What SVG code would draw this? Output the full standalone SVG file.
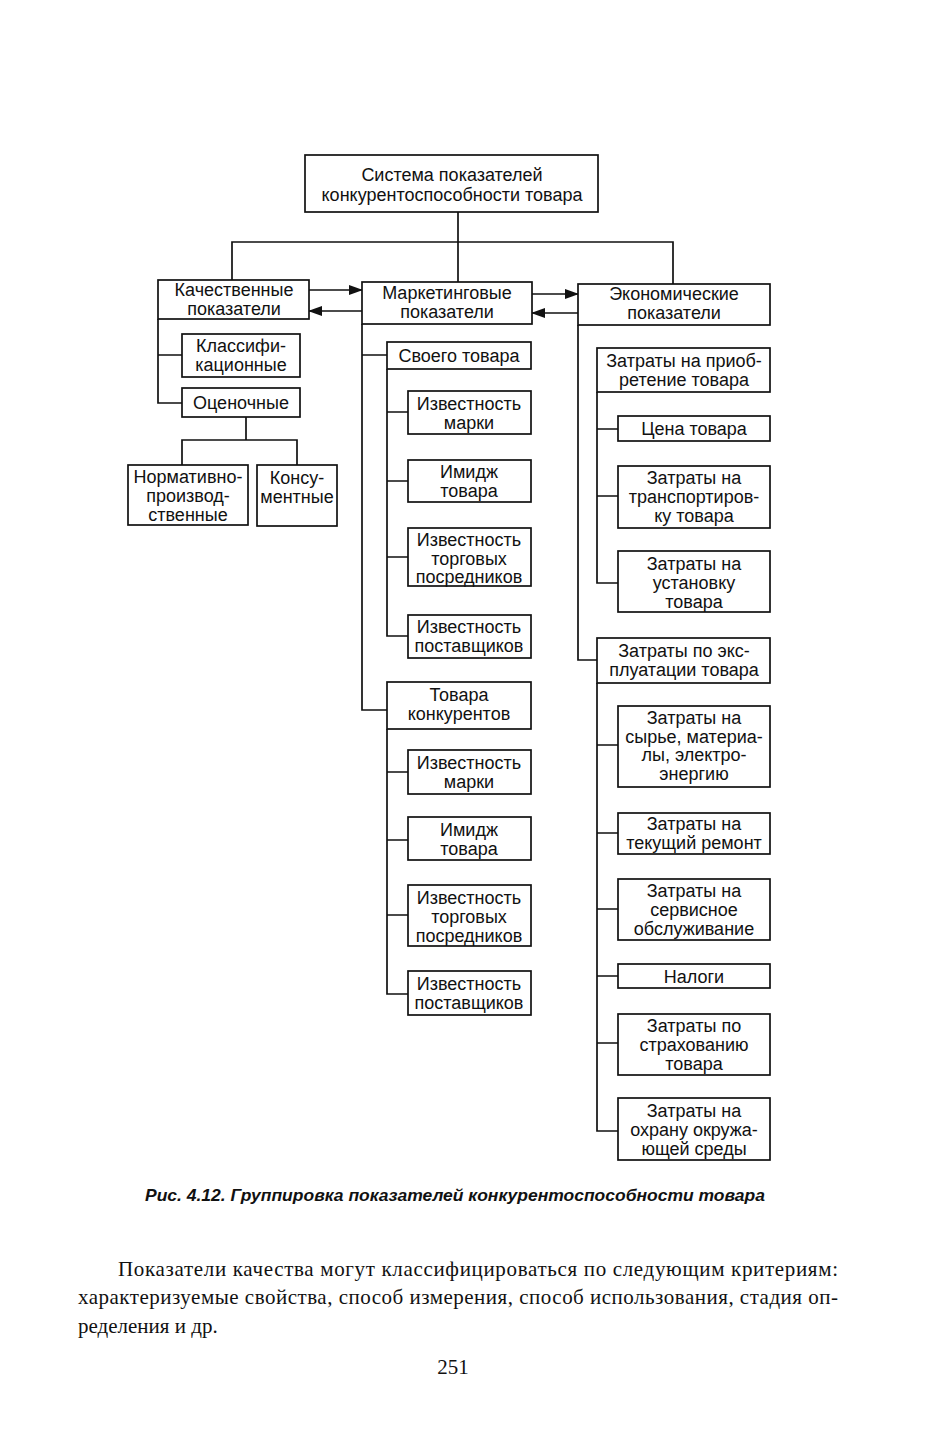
<svg xmlns="http://www.w3.org/2000/svg" width="940" height="1446" viewBox="0 0 940 1446">
<defs>
<marker id="ah" markerWidth="14" markerHeight="10" refX="13" refY="5" orient="auto" markerUnits="userSpaceOnUse">
<path d="M0,0 L14,5 L0,10 Z" fill="#111"/>
</marker>
<style>
.b{fill:#fff;stroke:#111;stroke-width:1.7}
.t{font-family:"Liberation Sans",Arial,sans-serif;font-size:18px;text-anchor:middle;fill:#111}
.c{stroke:#111;stroke-width:1.7;fill:none}
.cap{font-family:"Liberation Sans",Arial,sans-serif;font-size:17px;font-weight:bold;font-style:italic;fill:#111}
.body{font-family:"Liberation Serif","Times New Roman",serif;font-size:21px;fill:#111}
</style>
</defs>
<rect width="940" height="1446" fill="#fff"/>
<g id="connectors">
<path class="c" d="M458,212 V282"/>
<path class="c" d="M232,280 V242 H673 V284"/>
<path class="c" d="M309,290 H362" marker-end="url(#ah)"/>
<path class="c" d="M362,311 H309" marker-end="url(#ah)"/>
<path class="c" d="M532,294 H578" marker-end="url(#ah)"/>
<path class="c" d="M578,313 H532" marker-end="url(#ah)"/>
<path class="c" d="M158,319 V403 H182 M158,355 H182"/>
<path class="c" d="M246,417 V440 M182,465 V440 H297 V465"/>
<path class="c" d="M362,324 V710 H387 M362,355 H387"/>
<path class="c" d="M387,369 V636 H408 M387,412 H408 M387,481 H408 M387,557 H408"/>
<path class="c" d="M387,729 V994 H408 M387,772 H408 M387,840 H408 M387,915 H408"/>
<path class="c" d="M578,325 V660 H597"/>
<path class="c" d="M597,392 V583 H618 M597,429 H618 M597,496 H618"/>
<path class="c" d="M597,683 V1131 H618 M597,745 H618 M597,833 H618 M597,909 H618 M597,976 H618 M597,1043 H618"/>
</g>
<g id="n-top"><rect class="b" x="305" y="155" width="293" height="57"/><text class="t" x="452" y="181">Система показателей</text><text class="t" x="452" y="201">конкурентоспособности товара</text></g>
<g id="n-kach"><rect class="b" x="158" y="280" width="151" height="39"/><text class="t" x="234" y="296">Качественные</text><text class="t" x="234" y="315">показатели</text></g>
<g id="n-mark"><rect class="b" x="362" y="282" width="170" height="42"/><text class="t" x="447" y="299">Маркетинговые</text><text class="t" x="447" y="318">показатели</text></g>
<g id="n-econ"><rect class="b" x="578" y="284" width="192" height="41"/><text class="t" x="674" y="300">Экономические</text><text class="t" x="674" y="319">показатели</text></g>
<g id="n-klass"><rect class="b" x="182" y="334" width="118" height="43"/><text class="t" x="241" y="352">Классифи-</text><text class="t" x="241" y="371">кационные</text></g>
<g id="n-otsen"><rect class="b" x="182" y="388" width="118" height="29"/><text class="t" x="241" y="409">Оценочные</text></g>
<g id="n-norm"><rect class="b" x="128" y="465" width="120" height="60"/><text class="t" x="188" y="483">Нормативно-</text><text class="t" x="188" y="502">производ-</text><text class="t" x="188" y="521">ственные</text></g>
<g id="n-kons"><rect class="b" x="257" y="465" width="80" height="61"/><text class="t" x="297" y="484">Консу-</text><text class="t" x="297" y="503">ментные</text></g>
<g id="n-svoego"><rect class="b" x="387" y="342" width="144" height="27"/><text class="t" x="459" y="362">Своего товара</text></g>
<g id="n-m1"><rect class="b" x="408" y="391" width="123" height="43"/><text class="t" x="469" y="410">Известность</text><text class="t" x="469" y="429">марки</text></g>
<g id="n-m2"><rect class="b" x="408" y="460" width="123" height="42"/><text class="t" x="469" y="478">Имидж</text><text class="t" x="469" y="497">товара</text></g>
<g id="n-m3"><rect class="b" x="408" y="528" width="123" height="58"/><text class="t" x="469" y="546">Известность</text><text class="t" x="469" y="565">торговых</text><text class="t" x="469" y="583">посредников</text></g>
<g id="n-m4"><rect class="b" x="408" y="615" width="123" height="43"/><text class="t" x="469" y="633">Известность</text><text class="t" x="469" y="652">поставщиков</text></g>
<g id="n-konk"><rect class="b" x="387" y="682" width="144" height="47"/><text class="t" x="459" y="701">Товара</text><text class="t" x="459" y="720">конкурентов</text></g>
<g id="n-k1"><rect class="b" x="408" y="750" width="123" height="44"/><text class="t" x="469" y="769">Известность</text><text class="t" x="469" y="788">марки</text></g>
<g id="n-k2"><rect class="b" x="408" y="817" width="123" height="43"/><text class="t" x="469" y="836">Имидж</text><text class="t" x="469" y="855">товара</text></g>
<g id="n-k3"><rect class="b" x="408" y="885" width="123" height="61"/><text class="t" x="469" y="904">Известность</text><text class="t" x="469" y="923">торговых</text><text class="t" x="469" y="942">посредников</text></g>
<g id="n-k4"><rect class="b" x="408" y="971" width="123" height="44"/><text class="t" x="469" y="990">Известность</text><text class="t" x="469" y="1009">поставщиков</text></g>
<g id="n-pri"><rect class="b" x="597" y="348" width="173" height="44"/><text class="t" x="684" y="367">Затраты на приоб-</text><text class="t" x="684" y="386">ретение товара</text></g>
<g id="n-p1"><rect class="b" x="618" y="416" width="152" height="25"/><text class="t" x="694" y="435">Цена товара</text></g>
<g id="n-p2"><rect class="b" x="618" y="466" width="152" height="62"/><text class="t" x="694" y="484">Затраты на</text><text class="t" x="694" y="503">транспортиров-</text><text class="t" x="694" y="522">ку товара</text></g>
<g id="n-p3"><rect class="b" x="618" y="551" width="152" height="61"/><text class="t" x="694" y="570">Затраты на</text><text class="t" x="694" y="589">установку</text><text class="t" x="694" y="608">товара</text></g>
<g id="n-exp"><rect class="b" x="597" y="638" width="173" height="45"/><text class="t" x="684" y="657">Затраты по экс-</text><text class="t" x="684" y="676">плуатации товара</text></g>
<g id="n-e1"><rect class="b" x="618" y="706" width="152" height="81"/><text class="t" x="694" y="724">Затраты на</text><text class="t" x="694" y="743">сырье, материа-</text><text class="t" x="694" y="761">лы, электро-</text><text class="t" x="694" y="780">энергию</text></g>
<g id="n-e2"><rect class="b" x="618" y="813" width="152" height="41"/><text class="t" x="694" y="830">Затраты на</text><text class="t" x="694" y="849">текущий ремонт</text></g>
<g id="n-e3"><rect class="b" x="618" y="879" width="152" height="61"/><text class="t" x="694" y="897">Затраты на</text><text class="t" x="694" y="916">сервисное</text><text class="t" x="694" y="935">обслуживание</text></g>
<g id="n-e4"><rect class="b" x="618" y="964" width="152" height="24"/><text class="t" x="694" y="983">Налоги</text></g>
<g id="n-e5"><rect class="b" x="618" y="1014" width="152" height="61"/><text class="t" x="694" y="1032">Затраты по</text><text class="t" x="694" y="1051">страхованию</text><text class="t" x="694" y="1070">товара</text></g>
<g id="n-e6"><rect class="b" x="618" y="1098" width="152" height="62"/><text class="t" x="694" y="1117">Затраты на</text><text class="t" x="694" y="1136">охрану окружа-</text><text class="t" x="694" y="1155">ющей среды</text></g>
<text class="cap" x="145" y="1201" textLength="620" lengthAdjust="spacingAndGlyphs">Рис. 4.12. Группировка показателей конкурентоспособности товара</text>
<text class="body" x="118" y="1276" textLength="720" lengthAdjust="spacing">Показатели качества могут классифицироваться по следующим критериям:</text>
<text class="body" x="78" y="1304" textLength="760" lengthAdjust="spacing">характеризуемые свойства, способ измерения, способ использования, стадия оп-</text>
<text class="body" x="78" y="1333">ределения и др.</text>
<text class="body" x="453" y="1374" text-anchor="middle">251</text>
</svg>
